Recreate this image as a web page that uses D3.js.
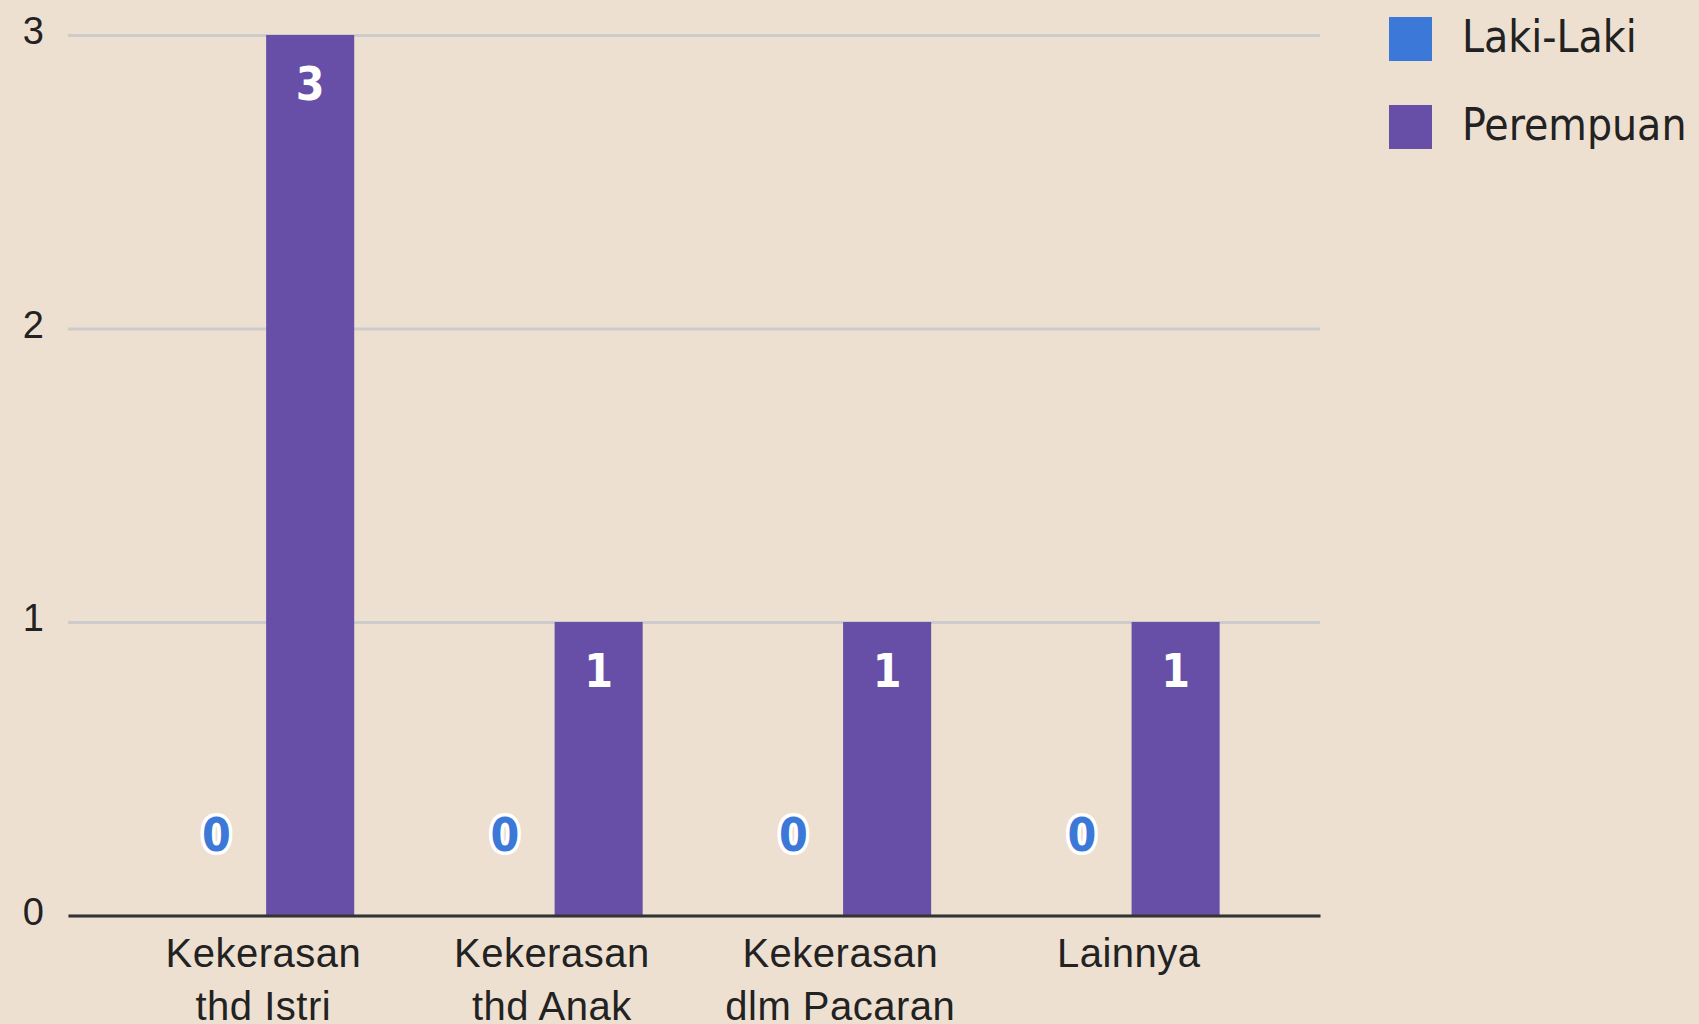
<!DOCTYPE html>
<html>
  <head>
    <meta charset="utf-8">
    <title>Kekerasan</title>
    <script src="https://d3js.org/d3.v7.min.js"></script>
    <style>
      body { margin: 0; background: #ede0d1; }
      svg { display: block; font-family: "DejaVu Sans Condensed", "DejaVu Sans", sans-serif; font-stretch: condensed; }
    </style>
  </head>
  <body>
    <svg id="chart" width="1699" height="1024"></svg>
    <script>
      // data
      const categories = ["Kekerasan thd Istri", "Kekerasan thd Anak", "Kekerasan dlm Pacaran", "Lainnya"];
      const series = ["Laki-Laki", "Perempuan"];
      const lakiLaki = [0, 0, 0, 0];
      const perempuan = [3, 1, 1, 1];
      const yTicks = [0, 1, 2, 3];
      const colors = ["#3c78d8", "#674ea7"];

      const rows = categories.map(function(c, i) {
        return { category: c, values: [lakiLaki[i], perempuan[i]] };
      });

      // page elements
      const width = 1699, height = 1024;
      const margin = { top: 35, right: 379, bottom: 108.5, left: 68 };
      const chart = d3.select("#chart");
      chart.append("rect")
        .attr("width", width)
        .attr("height", height)
        .attr("fill", "#ede0d1");

      const x0 = d3.scaleBand()
        .domain(categories)
        .range([margin.left, width - margin.right])
        .paddingInner(0.37)
        .paddingOuter(0.355)
        .align(0.51);
      const x1 = d3.scaleBand()
        .domain(series)
        .range([0, x0.bandwidth()])
        .paddingInner(0.06);
      const y = d3.scaleLinear()
        .domain([0, 3])
        .range([height - margin.bottom, margin.top]);

      // gridlines + y ticks
      const yAxis = d3.axisLeft(y)
        .tickValues(yTicks)
        .tickSize(-(width - margin.right - margin.left))
        .tickPadding(24)
        .tickFormat(d3.format("d"));
      const yAxisGroup = chart.append("g")
        .attr("transform", "translate(" + margin.left + ",0)")
        .call(yAxis);
      yAxisGroup.select(".domain").remove();
      yAxisGroup.selectAll(".tick line")
        .attr("stroke", "#cccccc")
        .attr("stroke-width", 3);
      yAxisGroup.selectAll(".tick text")
        .attr("dy", null)
        .attr("y", 8.5)
        .attr("fill", "#222")
        .style("font-size", "38px");

      // bars
      const groups = chart.append("g")
        .selectAll("g")
          .data(rows)
        .enter().append("g")
          .attr("transform", function(d) { return "translate(" + x0(d.category) + ",0)"; });
      groups.selectAll("rect")
          .data(function(d) { return d.values.map(function(v, i) { return { key: series[i], value: v, i: i }; }); })
        .enter().append("rect")
          .attr("x", function(d) { return x1(d.key); })
          .attr("y", function(d) { return y(d.value); })
          .attr("width", x1.bandwidth())
          .attr("height", function(d) { return y(0) - y(d.value); })
          .attr("fill", function(d) { return colors[d.i]; });

      // baseline + category labels
      const xAxis = d3.axisBottom(x0).tickSize(0).tickPadding(0);
      const xAxisGroup = chart.append("g")
        .attr("transform", "translate(0," + y(0) + ")")
        .call(xAxis);
      xAxisGroup.select(".domain")
        .attr("stroke", "#333333")
        .attr("stroke-width", 3);
      xAxisGroup.selectAll(".tick text")
        .attr("dy", null)
        .attr("y", 0)
        .attr("fill", "#222")
        .style("font-size", "40px")
        .style("letter-spacing", "0.5px")
        .text(null)
        .each(function(d) {
          const cut = d.indexOf(" ");
          const lines = cut < 0 ? [d] : [d.slice(0, cut), d.slice(cut + 1)];
          d3.select(this).selectAll("tspan")
              .data(lines)
            .enter().append("tspan")
              .attr("x", 0)
              .attr("y", function(l, i) { return 51.5 + i * 53; })
              .text(function(l) { return l; });
        });

      // value labels
      groups.selectAll(".label")
          .data(function(d) { return d.values.map(function(v, i) { return { key: series[i], value: v, i: i }; }); })
        .enter().append("text")
          .classed("label", true)
          .attr("x", function(d) { return x1(d.key) + x1.bandwidth() / 2; })
          .attr("y", function(d) { return d.value > 0 ? y(d.value) + 65 : y(0) - 65; })
          .attr("text-anchor", "middle")
          .style("font-size", "46px")
          .style("font-weight", "bold")
          .attr("fill", function(d) { return d.value > 0 ? "#ffffff" : colors[d.i]; })
          .attr("stroke", function(d) { return d.value > 0 ? "none" : "#ffffff"; })
          .attr("stroke-width", 7)
          .attr("paint-order", "stroke")
          .text(function(d) { return d.value; });

      // legend
      const legend = chart.append("g")
        .selectAll("g")
          .data(series)
        .enter().append("g")
          .attr("transform", function(d, i) { return "translate(1389," + (17 + i * 88) + ")"; });
      legend.append("rect")
        .attr("width", 43)
        .attr("height", 44)
        .attr("fill", function(d, i) { return colors[i]; });
      legend.append("text")
        .attr("x", 73)
        .attr("y", 35)
        .attr("fill", "#222")
        .style("font-size", "44px")
        .text(function(d) { return d; });
    </script>
  </body>
</html>
